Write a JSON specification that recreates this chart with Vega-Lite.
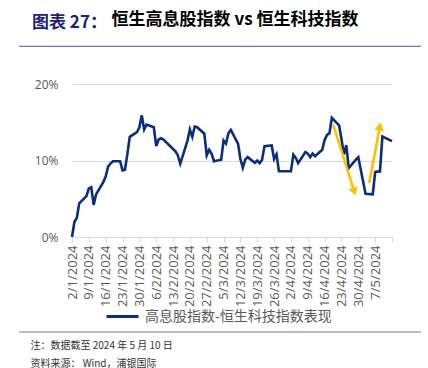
{
  "$schema": "https://vega.github.io/schema/vega-lite/v6.json",
  "width": 320,
  "height": 153,
  "autosize": {"type": "none"},
  "padding": {"left": 72, "top": 84, "right": 36, "bottom": 131},
  "background": "white",
  "config": {
    "view": {"stroke": null},
    "font": "Noto Sans CJK SC",
    "axisX": {
      "labelAngle": 270,
      "labelAlign": "right",
      "labelBaseline": "middle",
      "labelFont": "Open Sans",
      "labelFontSize": 13,
      "labelColor": "#595959",
      "labelPadding": 3,
      "labelOverlap": false,
      "labelBound": false,
      "labelFlush": false,
      "grid": false,
      "domainColor": "#D9D9D9",
      "domainWidth": 1,
      "tickColor": "#D9D9D9",
      "tickSize": 5,
      "tickWidth": 1,
      "titleX": -42,
      "titleY": 111,
      "titleAlign": "left",
      "titleAngle": 0,
      "titleBaseline": "alphabetic",
      "titleFont": "Noto Sans CJK SC",
      "titleFontSize": 10,
      "titleFontWeight": "normal",
      "titleColor": "#333333",
      "titleLineHeight": 18
    },
    "axisY": {
      "domain": false,
      "ticks": false,
      "labelPadding": 14,
      "labelFont": "Open Sans",
      "labelFontSize": 12,
      "labelColor": "#595959",
      "gridColor": "#D9D9D9",
      "gridWidth": 1
    }
  },
  "title": {
    "text": "图表 27：",
    "subtitle": "\u200b\u3000\u3000\u3000\u3000\u00a0\u00a0\u00a0恒生高息股指数 vs 恒生科技指数",
    "anchor": "start",
    "frame": "group",
    "dx": -40,
    "offset": 11,
    "font": "Noto Sans CJK SC",
    "fontSize": 17,
    "fontWeight": "bold",
    "color": "#1F1F78",
    "subtitleFont": "Noto Sans CJK SC",
    "subtitleFontSize": 17,
    "subtitleFontWeight": "bold",
    "subtitleColor": "#000000",
    "subtitlePadding": -20
  },
  "datasets": {
    "series": [
      {"date": "2024-01-02", "value": 0.000},
      {"date": "2024-01-03", "value": 0.0196},
      {"date": "2024-01-04", "value": 0.025},
      {"date": "2024-01-05", "value": 0.044},
      {"date": "2024-01-08", "value": 0.0535},
      {"date": "2024-01-09", "value": 0.0635},
      {"date": "2024-01-10", "value": 0.065},
      {"date": "2024-01-11", "value": 0.042},
      {"date": "2024-01-12", "value": 0.0557},
      {"date": "2024-01-15", "value": 0.0718},
      {"date": "2024-01-16", "value": 0.079},
      {"date": "2024-01-17", "value": 0.092},
      {"date": "2024-01-18", "value": 0.096},
      {"date": "2024-01-19", "value": 0.099},
      {"date": "2024-01-22", "value": 0.099},
      {"date": "2024-01-23", "value": 0.087},
      {"date": "2024-01-24", "value": 0.088},
      {"date": "2024-01-25", "value": 0.108},
      {"date": "2024-01-26", "value": 0.131},
      {"date": "2024-01-29", "value": 0.137},
      {"date": "2024-01-30", "value": 0.1435},
      {"date": "2024-01-31", "value": 0.159},
      {"date": "2024-02-01", "value": 0.1405},
      {"date": "2024-02-02", "value": 0.147},
      {"date": "2024-02-05", "value": 0.1435},
      {"date": "2024-02-06", "value": 0.119},
      {"date": "2024-02-07", "value": 0.1275},
      {"date": "2024-02-08", "value": 0.129},
      {"date": "2024-02-09", "value": 0.1275},
      {"date": "2024-02-14", "value": 0.112},
      {"date": "2024-02-15", "value": 0.1066},
      {"date": "2024-02-16", "value": 0.0957},
      {"date": "2024-02-19", "value": 0.126},
      {"date": "2024-02-20", "value": 0.1405},
      {"date": "2024-02-21", "value": 0.131},
      {"date": "2024-02-22", "value": 0.1444},
      {"date": "2024-02-23", "value": 0.1435},
      {"date": "2024-02-26", "value": 0.135},
      {"date": "2024-02-27", "value": 0.1066},
      {"date": "2024-02-28", "value": 0.114},
      {"date": "2024-02-29", "value": 0.109},
      {"date": "2024-03-01", "value": 0.099},
      {"date": "2024-03-04", "value": 0.101},
      {"date": "2024-03-05", "value": 0.126},
      {"date": "2024-03-06", "value": 0.122},
      {"date": "2024-03-07", "value": 0.1357},
      {"date": "2024-03-08", "value": 0.140},
      {"date": "2024-03-11", "value": 0.122},
      {"date": "2024-03-12", "value": 0.102},
      {"date": "2024-03-13", "value": 0.0905},
      {"date": "2024-03-14", "value": 0.101},
      {"date": "2024-03-15", "value": 0.1044},
      {"date": "2024-03-18", "value": 0.097},
      {"date": "2024-03-19", "value": 0.100},
      {"date": "2024-03-20", "value": 0.0966},
      {"date": "2024-03-21", "value": 0.101},
      {"date": "2024-03-22", "value": 0.1188},
      {"date": "2024-03-25", "value": 0.1196},
      {"date": "2024-03-26", "value": 0.102},
      {"date": "2024-03-27", "value": 0.108},
      {"date": "2024-03-28", "value": 0.086},
      {"date": "2024-04-02", "value": 0.086},
      {"date": "2024-04-03", "value": 0.1075},
      {"date": "2024-04-04", "value": 0.1035},
      {"date": "2024-04-05", "value": 0.0966},
      {"date": "2024-04-08", "value": 0.111},
      {"date": "2024-04-09", "value": 0.109},
      {"date": "2024-04-10", "value": 0.1044},
      {"date": "2024-04-11", "value": 0.109},
      {"date": "2024-04-12", "value": 0.1057},
      {"date": "2024-04-15", "value": 0.114},
      {"date": "2024-04-16", "value": 0.127},
      {"date": "2024-04-17", "value": 0.1335},
      {"date": "2024-04-18", "value": 0.1357},
      {"date": "2024-04-19", "value": 0.1557},
      {"date": "2024-04-22", "value": 0.1458},
      {"date": "2024-04-23", "value": 0.128},
      {"date": "2024-04-24", "value": 0.108},
      {"date": "2024-04-25", "value": 0.120},
      {"date": "2024-04-26", "value": 0.090},
      {"date": "2024-04-29", "value": 0.101},
      {"date": "2024-04-30", "value": 0.1044},
      {"date": "2024-05-03", "value": 0.0566},
      {"date": "2024-05-06", "value": 0.0557},
      {"date": "2024-05-07", "value": 0.0848},
      {"date": "2024-05-08", "value": 0.0855},
      {"date": "2024-05-09", "value": 0.0857},
      {"date": "2024-05-10", "value": 0.1314},
      {"date": "2024-05-14", "value": 0.1253}
    ],
    "arrow1": [{"x1": "2024-04-19 14:24", "y1": 0.1466, "x2": "2024-04-28 07:12", "y2": 0.0595}],
    "arrow2": [{"x1": "2024-05-04 12:00", "y1": 0.0706, "x2": "2024-05-09 00:00", "y2": 0.1448}]
  },
  "layer": [
    {
      "data": {"name": "series", "format": {"parse": {"date": "utc:'%Y-%m-%d'"}}},
      "mark": {"type": "line", "strokeWidth": 2.6, "interpolate": "linear"},
      "encoding": {
        "x": {
          "field": "date",
          "type": "temporal",
          "scale": {"type": "utc", "domain": [{"year": 2024, "month": 1, "date": 2, "utc": true}, {"year": 2024, "month": 5, "date": 14, "utc": true}]},
          "axis": {
            "values": [
              {"year": 2024, "month": 1, "date": 2, "utc": true},
              {"year": 2024, "month": 1, "date": 9, "utc": true},
              {"year": 2024, "month": 1, "date": 16, "utc": true},
              {"year": 2024, "month": 1, "date": 23, "utc": true},
              {"year": 2024, "month": 1, "date": 30, "utc": true},
              {"year": 2024, "month": 2, "date": 6, "utc": true},
              {"year": 2024, "month": 2, "date": 13, "utc": true},
              {"year": 2024, "month": 2, "date": 20, "utc": true},
              {"year": 2024, "month": 2, "date": 27, "utc": true},
              {"year": 2024, "month": 3, "date": 5, "utc": true},
              {"year": 2024, "month": 3, "date": 12, "utc": true},
              {"year": 2024, "month": 3, "date": 19, "utc": true},
              {"year": 2024, "month": 3, "date": 26, "utc": true},
              {"year": 2024, "month": 4, "date": 2, "utc": true},
              {"year": 2024, "month": 4, "date": 9, "utc": true},
              {"year": 2024, "month": 4, "date": 16, "utc": true},
              {"year": 2024, "month": 4, "date": 23, "utc": true},
              {"year": 2024, "month": 4, "date": 30, "utc": true},
              {"year": 2024, "month": 5, "date": 7, "utc": true},
              {"year": 2024, "month": 5, "date": 14, "utc": true}
            ],
            "tickCount": 40,
            "labelExpr": "datum.value > utc(2024, 4, 10) ? '' : utcFormat(datum.value, '%-d/%-m/%Y')",
            "labelOverlap": false,
            "title": ["注：数据截至 2024 年 5 月 10 日", "资料来源： Wind，浦银国际"]
          }
        },
        "y": {
          "field": "value",
          "type": "quantitative",
          "scale": {"domain": [0, 0.2], "nice": false},
          "axis": {
            "title": null,
            "values": [0, 0.05, 0.1, 0.15, 0.2],
            "format": ".0%"
          }
        },
        "color": {
          "datum": "高息股指数-恒生科技指数表现",
          "scale": {"range": ["#0B2D7F"]},
          "legend": {
            "title": null,
            "orient": "none",
            "legendX": 33,
            "legendY": 215,
            "symbolType": "stroke",
            "symbolSize": 1024,
            "symbolStrokeWidth": 3,
            "labelFont": "Noto Sans CJK SC",
            "labelFontSize": 14,
            "labelColor": "#595959",
            "labelOffset": 5,
            "labelLimit": 400
          }
        }
      }
    },
    {
      "data": {"values": [{}]},
      "mark": {"type": "rule", "color": "#7373B5", "strokeWidth": 1.2},
      "encoding": {
        "x": {"datum": {"year": 2023, "month": 12, "date": 11, "utc": true}, "type": "temporal"},
        "x2": {"datum": {"year": 2024, "month": 5, "date": 26, "utc": true}},
        "y": {"datum": 0.2492, "type": "quantitative"}
      }
    },
    {
      "data": {"values": [{}]},
      "mark": {"type": "rule", "color": "#7373B5", "strokeWidth": 1.2},
      "encoding": {
        "x": {"datum": {"year": 2023, "month": 12, "date": 11, "utc": true}, "type": "temporal"},
        "x2": {"datum": {"year": 2024, "month": 5, "date": 26, "utc": true}},
        "y": {"datum": -0.1242, "type": "quantitative"}
      }
    },
    {
      "data": {"name": "arrow1", "format": {"parse": {"x1": "utc:'%Y-%m-%d %H:%M'", "x2": "utc:'%Y-%m-%d %H:%M'"}}},
      "layer": [
        {
          "mark": {"type": "rule", "color": "#FFC000", "strokeWidth": 2.6},
          "encoding": {
            "x": {"field": "x1", "type": "temporal"},
            "y": {"field": "y1", "type": "quantitative"},
            "x2": {"field": "x2"},
            "y2": {"field": "y2"}
          }
        },
        {
          "mark": {"type": "point", "shape": "triangle-up", "filled": true, "size": 90, "angle": 162.5, "color": "#FFC000", "opacity": 1},
          "encoding": {
            "x": {"field": "x2", "type": "temporal"},
            "y": {"field": "y2", "type": "quantitative"}
          }
        }
      ]
    },
    {
      "data": {"name": "arrow2", "format": {"parse": {"x1": "utc:'%Y-%m-%d %H:%M'", "x2": "utc:'%Y-%m-%d %H:%M'"}}},
      "layer": [
        {
          "mark": {"type": "rule", "color": "#FFC000", "strokeWidth": 2.6},
          "encoding": {
            "x": {"field": "x1", "type": "temporal"},
            "y": {"field": "y1", "type": "quantitative"},
            "x2": {"field": "x2"},
            "y2": {"field": "y2"}
          }
        },
        {
          "mark": {"type": "point", "shape": "triangle-up", "filled": true, "size": 90, "angle": 10.7, "color": "#FFC000", "opacity": 1},
          "encoding": {
            "x": {"field": "x2", "type": "temporal"},
            "y": {"field": "y2", "type": "quantitative"}
          }
        }
      ]
    }
  ]
}
